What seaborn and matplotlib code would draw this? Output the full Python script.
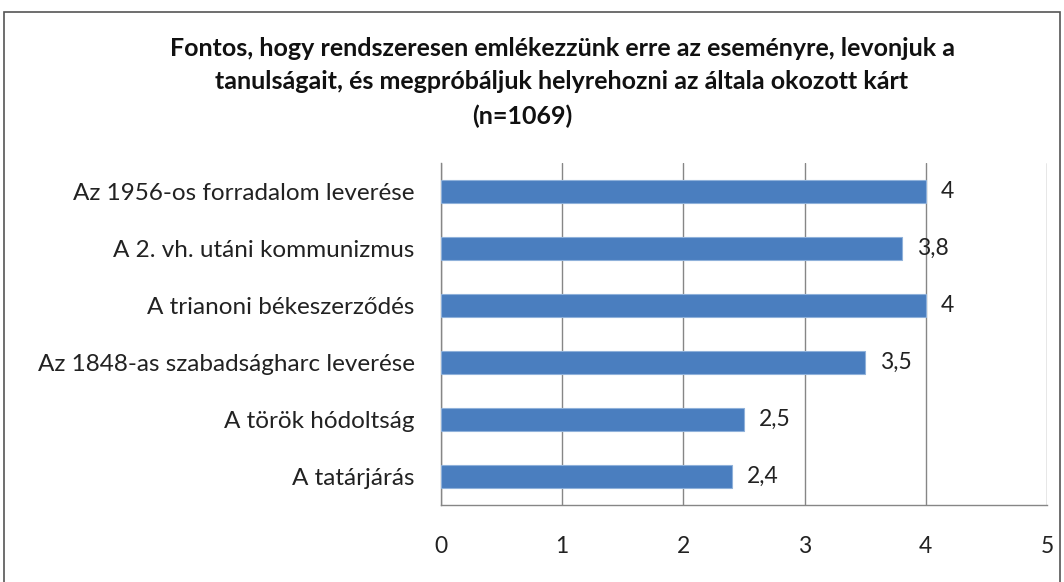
import matplotlib
matplotlib.use("Agg")
import matplotlib.pyplot as plt
import seaborn as sns
import pandas as pd
from matplotlib.patches import Rectangle

events = [
    "Az 1956-os forradalom leverése",
    "A 2. vh. utáni kommunizmus",
    "A trianoni békeszerződés",
    "Az 1848-as szabadságharc leverése",
    "A török hódoltság",
    "A tatárjárás",
]
scores = [4, 3.8, 4, 3.5, 2.5, 2.4]
score_labels = ["4", "3,8", "4", "3,5", "2,5", "2,4"]
x_ticks = [0, 1, 2, 3, 4, 5]
title_lines = [
    "Fontos, hogy rendszeresen emlékezzünk erre az eseményre, levonjuk a",
    "tanulságait, és megpróbáljuk helyrehozni az általa okozott kárt",
    "(n=1069)",
]

df = pd.DataFrame({"event": events, "score": scores})

sns.set_style("white")
plt.rcParams["font.family"] = ["Lato", "DejaVu Sans"]

fig = plt.figure(figsize=(10.64, 5.82), dpi=100)
ax = fig.add_axes([441 / 1064, 1 - 505 / 582, 606 / 1064, 342 / 582])

sns.barplot(data=df, x="score", y="event", orient="h", color="#4A7EBF",
            saturation=1, width=0.39, edgecolor="#8FB1DA", linewidth=0.8,
            ax=ax, zorder=3)

ax.set_xlim(0, 5)
ax.set_ylim(5.5, -0.5)
ax.set_xticks(x_ticks)
ax.set_xticklabels([str(t) for t in x_ticks], fontsize=16.5, color="#222222")
ax.tick_params(axis="x", direction="out", length=6, color="#868686", pad=16)
ax.set_yticks(range(len(events)))
ax.set_yticklabels(events, fontsize=17.5, color="#222222")
ax.tick_params(axis="y", which="major", length=0, pad=19)
ax.set_yticks([i - 0.5 for i in range(len(events) + 1)], minor=True)
ax.tick_params(axis="y", which="minor", direction="out", length=6, color="#868686")
ax.set_xlabel("")
ax.set_ylabel("")

ax.grid(axis="x", color="#868686", linewidth=1, zorder=0)
ax.set_axisbelow(True)
for side in ["top", "right"]:
    ax.spines[side].set_visible(False)
for side in ["left", "bottom"]:
    ax.spines[side].set_color("#868686")
    ax.spines[side].set_linewidth(1)

for i, (v, lab) in enumerate(zip(scores, score_labels)):
    ax.annotate(lab, (v, i), xytext=(11, 0), textcoords="offset points",
                va="center", ha="left", fontsize=16.5, color="#222222")

# title, one line at a time (Excel centres the last line a bit to the left)
for line, cx, cy in zip(title_lines, [562, 562, 522], [48, 82, 116]):
    fig.text(cx / 1064, 1 - cy / 582, line, ha="center", va="center",
             fontsize=18, fontweight="bold", color="#111111")

fig.patches.append(Rectangle((4 / 1064, -0.01), 1056 / 1064, 1 - 12 / 582 + 0.01,
                             transform=fig.transFigure, fill=False,
                             edgecolor="#555555", linewidth=1.2))

fig.savefig("out.png", dpi=100)
